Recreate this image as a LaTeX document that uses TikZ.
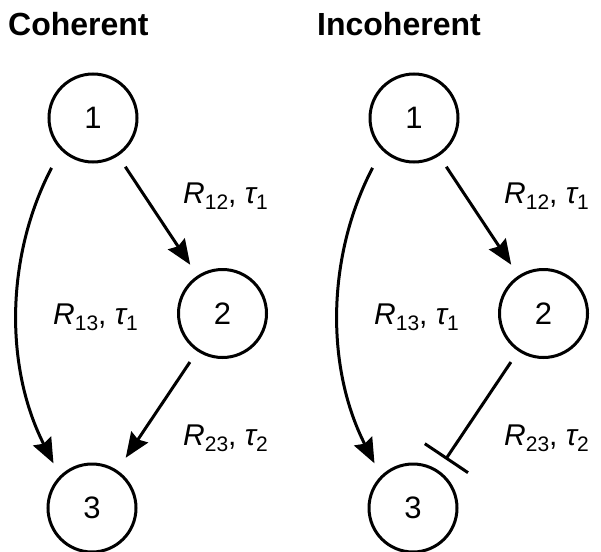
\documentclass[tikz,border=0pt]{standalone}
\usepackage{fontspec}
\setmainfont{Liberation Sans}
\usetikzlibrary{arrows.meta}
\newcommand{\lbl}[4]{{\itshape #1}\raisebox{-6pt}{\fontsize{21}{21}\selectfont #2}, {\itshape #3}\raisebox{-6pt}{\fontsize{21}{21}\selectfont #4}}
\begin{document}
\begin{tikzpicture}[x=1pt,y=-1pt,
  state/.style={circle,draw,line width=3pt,minimum size=88pt,inner sep=0pt,font=\fontsize{31}{36}\selectfont},
  conn/.style={line width=3pt},
  arr/.style={conn,-{Stealth[length=25pt,width=20pt,inset=3pt]}},
  inh/.style={conn,-{Bar[width=52pt]}},
  lab/.style={anchor=base west,inner sep=0pt,font=\fontsize{30}{36}\selectfont},
  ttl/.style={anchor=base west,inner sep=0pt,font=\fontsize{32}{38}\selectfont\bfseries}]
\useasboundingbox (0,0) rectangle (601,551);
% titles
\node[ttl] (tc) at (8,35) {Coherent};
\node[ttl] (ti) at (317,35) {Incoherent};
% coherent
\node[state] (L1) at (93,118) {1};
\node[state] (L2) at (222.5,313.5) {2};
\node[state] (L3) at (92,508) {3};
\draw[arr,shorten <=13pt,shorten >=13pt] (L1) -- (L2);
\draw[arr,shorten <=13pt,shorten >=15pt] (L2) -- (L3);
\draw[arr,shorten <=20pt,shorten >=14pt] (L1.225) .. controls (6,255) and (4,366) .. (L3.135);
\node[lab] (l12) at (183,203) {\lbl{R}{12}{τ}{1}};
\node[lab] (l13) at (53,324) {\lbl{R}{13}{τ}{1}};
\node[lab] (l23) at (183,445) {\lbl{R}{23}{τ}{2}};
% incoherent
\node[state] (R1) at (414,118) {1};
\node[state] (R2) at (543.5,313.5) {2};
\node[state] (R3) at (413,508) {3};
\draw[arr,shorten <=13pt,shorten >=13pt] (R1) -- (R2);
\draw[inh,shorten <=13pt,shorten >=13pt] (R2) -- (R3);
\draw[arr,shorten <=20pt,shorten >=14pt] (R1.225) .. controls (327,255) and (325,366) .. (R3.135);
\node[lab] (r12) at (504,203) {\lbl{R}{12}{τ}{1}};
\node[lab] (r13) at (374,324) {\lbl{R}{13}{τ}{1}};
\node[lab] (r23) at (504,445) {\lbl{R}{23}{τ}{2}};
\end{tikzpicture}
\end{document}
